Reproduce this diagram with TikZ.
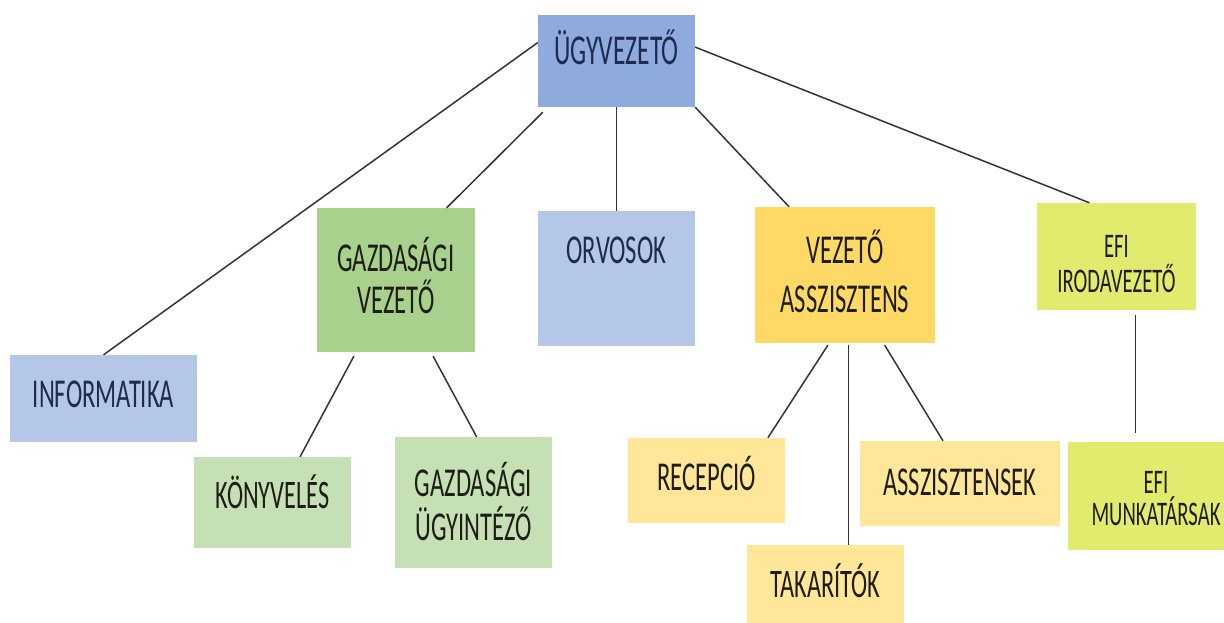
\documentclass[tikz,border=0pt]{standalone}
\usepackage{fontspec}
\newfontfamily\cf[FakeStretch=0.6]{Carlito}
\usetikzlibrary{calc}
\definecolor{cBlue}{HTML}{8FAADC}
\definecolor{cLBlue}{HTML}{B4C7E7}
\definecolor{cGreen}{HTML}{A9D18E}
\definecolor{cLGreen}{HTML}{C5E0B4}
\definecolor{cGold}{HTML}{FFD966}
\definecolor{cLGold}{HTML}{FFE699}
\definecolor{cLime}{HTML}{E3EB6F}
\definecolor{navy}{HTML}{1F2A4F}
\definecolor{txtdark}{HTML}{1E1E16}
\definecolor{lineC}{HTML}{333333}
\begin{document}
\begin{tikzpicture}[x=1pt,y=-1pt,
  box/.style={draw=none, inner sep=0pt, align=center, text=txtdark,
    font=\cf\fontsize{41}{44}\selectfont},
  link/.style={draw=lineC, line width=1.5pt}]
\useasboundingbox[fill=white] (0,0) rectangle (1224,623);

\node[box, fill=cBlue, text=navy, minimum width=157pt, text height=50pt, text depth=42pt,
  font=\cf\fontsize{42.5}{44}\selectfont] (ceo) at (616.5,61) {ÜGYVEZETŐ};
\node[box, fill=cGreen, minimum width=158pt, text height=105pt, text depth=39pt,
  font=\cf\fontsize{41}{42}\selectfont] (gv) at (396,280) {GAZDASÁGI\\VEZETŐ};
\node[box, fill=cLBlue, text=navy, minimum width=157pt, text height=52pt, text depth=83pt] (orv) at (616.5,278.5) {ORVOSOK};
\node[box, fill=cGold, minimum width=180pt, text height=105pt, text depth=31pt,
  font=\cf\fontsize{41}{49}\selectfont] (va) at (845,275) {VEZETŐ\\ASSZISZTENS};
\node[box, fill=cLime, minimum width=159pt, text height=89pt, text depth=18pt,
  font=\cf\fontsize{34.5}{35}\selectfont] (efi1) at (1116.5,256.5) {EFI\\IRODAVEZETŐ};
\node[box, fill=cLBlue, text=navy, minimum width=187pt, text height=52pt, text depth=35pt,
  font=\cf\fontsize{41}{42}\selectfont] (inf) at (103.5,398.5) {INFORMATIKA};
\node[box, fill=cLGreen, minimum width=157pt, text height=51pt, text depth=40pt,
  font=\cf\fontsize{40.5}{42}\selectfont] (kon) at (272.5,502.5) {KÖNYVELÉS};
\node[box, fill=cLGreen, minimum width=157pt, text height=103pt, text depth=28pt,
  font=\cf\fontsize{41}{44}\selectfont] (gu) at (473.5,502.5) {GAZDASÁGI\\ÜGYINTÉZŐ};
\node[box, fill=cLGold, minimum width=157pt, text height=52pt, text depth=33pt] (rec) at (706.5,480.5) {RECEPCIÓ};
\node[box, fill=cLGold, minimum width=157pt, text height=52pt, text depth=40pt,
  font=\cf\fontsize{40.5}{42}\selectfont] (tak) at (825.5,591) {TAKARÍTÓK};
\node[box, fill=cLGold, minimum width=200pt, text height=54pt, text depth=31pt,
  font=\cf\fontsize{41}{42}\selectfont] (asz) at (960,483.5) {ASSZISZTENSEK};
\node[box, fill=cLime, minimum width=176pt, text height=83pt, text depth=25pt,
  font=\cf\fontsize{34.5}{32}\selectfont] (efi2) at (1156,496) {EFI\\MUNKATÁRSAK};

\draw[link] ($(ceo.north west)!0.3!(ceo.south west)$) -- (inf.north);
\draw[link] ($(ceo.south west)+(5,5)$) -- ($(gv.north west)!0.82!(gv.north east)$);
\draw[link] (ceo.south) -- (orv.north);
\draw[link] (ceo.south east) -- ($(va.north west)!0.19!(va.north east)$);
\draw[link] ($(ceo.north east)!0.35!(ceo.south east)$) -- ($(efi1.north west)!0.33!(efi1.north east)$);

\draw[link] ($(gv.south west)!0.234!(gv.south east)+(0,4)$) -- ($(kon.north west)!0.675!(kon.north east)$);
\draw[link] ($(gv.south west)!0.734!(gv.south east)+(0,4)$) -- ($(gu.north west)!0.52!(gu.north east)$);

\draw[link] ($(va.south west)!0.405!(va.south east)+(0,2)$) -- ($(rec.north west)!0.89!(rec.north east)$);
\coordinate (vt) at ($(va.south west)!0.52!(va.south east)+(0,2)$);
\draw[link] (vt) -- (vt |- tak.north);
\draw[link] ($(va.south west)!0.72!(va.south east)+(0,2)$) -- ($(asz.north west)!0.415!(asz.north east)$);

\coordinate (ef) at ($(efi1.south west)!0.62!(efi1.south east)+(0,5)$);
\draw[link] (ef) -- ($(ef |- efi2.north)+(0,-9)$);
\end{tikzpicture}
\end{document}
